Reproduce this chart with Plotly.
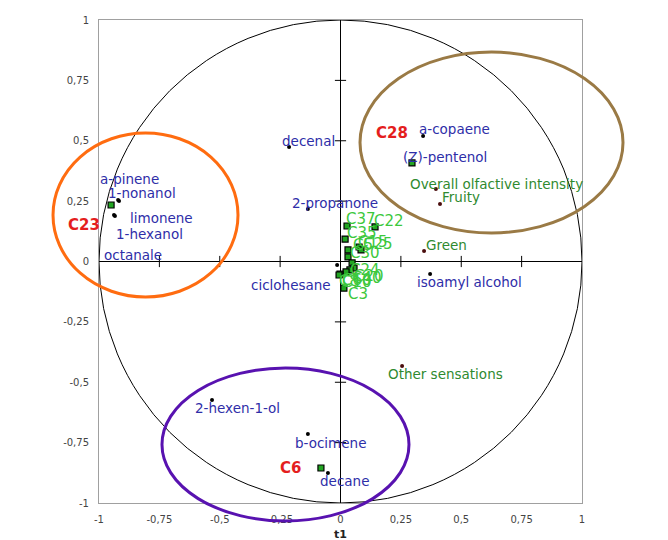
import plotly.graph_objects as go

# ---- data -------------------------------------------------------------
# Volatile compounds (correlations with t1 / t2)
compound_names = ["decenal", "2-propanone", "a-copaene", "(Z)-pentenol", "isoamyl alcohol",
                  "2-hexen-1-ol", "b-ocimene", "decane", "ciclohesane",
                  "a-pinene", "1-nonanol", "limonene", "1-hexanol", "octanale"]
compound_t1 = [-0.213, -0.135, 0.342, 0.296, 0.371,
               -0.532, -0.135, -0.052, -0.014,
               -0.921, -0.917, -0.934, -0.938, -0.946]
compound_t2 = [0.474, 0.217, 0.520, 0.408, -0.052,
               -0.573, -0.714, -0.876, -0.014,
               0.255, 0.251, 0.188, 0.193, 0.230]

# Sensory descriptors
sensory_names = ["Overall olfactive intensity", "Fruity", "Green", "Other sensations"]
sensory_t1 = [0.395, 0.412, 0.346, 0.255]
sensory_t2 = [0.300, 0.238, 0.043, -0.433]

# Samples
sample_names = ["C37", "C22", "C35", "C15", "C25", "C5", "C30", "C24",
                "C20", "C40", "C60", "C10", "C8", "C3"]
sample_t1 = [0.027, 0.143, 0.019, 0.077, 0.085, 0.031, 0.031, 0.048,
             0.056, 0.039, 0.023, -0.002, -0.006, 0.014]
sample_t2 = [0.147, 0.143, 0.093, 0.060, 0.048, 0.048, 0.019, -0.006,
             -0.027, -0.035, -0.043, -0.052, -0.056, -0.110]

# Highlighted samples
key_names = ["C23", "C28", "C6"]
key_t1 = [-0.950, 0.296, -0.081]
key_t2 = [0.234, 0.408, -0.855]

tick_vals = [-1, -0.75, -0.5, -0.25, 0, 0.25, 0.5, 0.75, 1]
tick_text = ["-1", "-0,75", "-0,5", "-0,25", "0", "0,25", "0,5", "0,75", "1"]

# ---- label placement (pixel shifts) ----------------------------------
compound_label = {
    "decenal": (-9, 6), "2-propanone": (-18, 6), "a-copaene": (-6, 7),
    "(Z)-pentenol": (-11, 6), "isoamyl alcohol": (-15, -8),
    "2-hexen-1-ol": (-19, -8), "b-ocimene": (-15, -9), "decane": (-10, -8),
    "ciclohesane": (-88, -20), "a-pinene": (-20, 21), "1-nonanol": (-13, 8),
    "limonene": (13, -2), "1-hexanol": (0, -19), "octanale": (-10, -49),
}
sensory_label = {
    "Overall olfactive intensity": (-28, 5), "Fruity": (0, 7),
    "Green": (0, 6), "Other sensations": (-16, -8),
}
sample_label = {
    "C37": (-3, 7), "C22": (-3, 6), "C35": (0, 6), "C15": (-3, 5),
    "C25": (0, 6), "C5": (3, 5), "C30": (0, 4), "C24": (-4, -7),
    "C20": (-2, -8), "C40": (0, -8), "C60": (-6, -8), "C10": (0, -8),
    "C8": (-2, -6), "C3": (2, -6),
}
key_label = {"C23": (-9, -20), "C28": (-2, 30), "C6": (-18, 0)}

FONT = "DejaVu Sans"
BLUE = "#2e2ea8"
DKGREEN = "#2f8a2f"
LTGREEN = "#3cc83c"
RED = "#e41e1e"

fig = go.Figure()

# tick marks crossing the zero axes
inner = [t for t in tick_vals if t not in (-1, 0, 1)]
fig.add_trace(go.Scatter(x=inner, y=[0] * len(inner), mode="markers",
                         marker=dict(symbol="line-ns-open", size=8, color="black",
                                     line=dict(color="black", width=1)),
                         hoverinfo="skip", showlegend=False))
fig.add_trace(go.Scatter(x=[0] * len(inner), y=inner, mode="markers",
                         marker=dict(symbol="line-ew-open", size=8, color="black",
                                     line=dict(color="black", width=1)),
                         hoverinfo="skip", showlegend=False))

# points
fig.add_trace(go.Scatter(x=compound_t1, y=compound_t2, mode="markers",
                         marker=dict(size=4, color="black"), showlegend=False))
fig.add_trace(go.Scatter(x=sensory_t1, y=sensory_t2, mode="markers",
                         marker=dict(size=4, color="#4a0d0d"), showlegend=False))
fig.add_trace(go.Scatter(x=sample_t1 + key_t1, y=sample_t2 + key_t2, mode="markers",
                         marker=dict(symbol="square", size=6, color="#22a522",
                                     line=dict(color="black", width=1.2)),
                         showlegend=False))

annotations = []


def add_labels(names, xs, ys, shifts, color, size, bold=False, anchor="left"):
    for n, x, y in zip(names, xs, ys):
        dx, dy = shifts[n]
        annotations.append(dict(
            x=x, y=y, xref="x", yref="y", text=f"<b>{n}</b>" if bold else n,
            showarrow=False, xanchor=anchor, yanchor="middle",
            xshift=dx, yshift=dy,
            font=dict(family=FONT, size=size, color=color)))


add_labels(compound_names, compound_t1, compound_t2, compound_label, BLUE, 13.5)
add_labels(sensory_names, sensory_t1, sensory_t2, sensory_label, DKGREEN, 13.5)
add_labels(sample_names, sample_t1, sample_t2, sample_label, LTGREEN, 15)
add_labels(key_names, key_t1, key_t2, key_label, RED, 15, bold=True, anchor="right")

annotations.append(dict(x=0.5, y=-0.066, xref="paper", yref="paper", text="<b>t1</b>",
                        showarrow=False, xanchor="center", yanchor="middle",
                        font=dict(family=FONT, size=11, color="#222")))

shapes = [
    # unit circle
    dict(type="circle", xref="x", yref="y", x0=-1, y0=-1, x1=1, y1=1,
         line=dict(color="black", width=1), layer="below"),
    # group outlines
    dict(type="circle", xref="paper", yref="paper", x0=-0.0952, x1=0.2878,
         y0=0.4265, y1=0.766, line=dict(color="#ff6c10", width=3)),
    dict(type="circle", xref="paper", yref="paper", x0=0.5404, x1=1.0849,
         y0=0.559, y1=0.9337, line=dict(color="#9a7a45", width=3)),
    dict(type="circle", xref="paper", yref="paper", x0=0.1304, x1=0.6418,
         y0=-0.0373, y1=0.2795, line=dict(color="#5812b0", width=3)),
]

axis_common = dict(range=[-1, 1], tickvals=tick_vals, ticktext=tick_text,
                   showgrid=False, zeroline=True, zerolinecolor="black",
                   zerolinewidth=1, showline=True, linecolor="#a0a0a0",
                   linewidth=1, mirror=True, ticks="outside", ticklen=7,
                   tickcolor="rgba(0,0,0,0)",
                   tickfont=dict(family=FONT, size=10, color="#444"))

fig.update_layout(
    width=668, height=540,
    margin=dict(l=99, r=86, t=20, b=37, autoexpand=False),
    paper_bgcolor="white", plot_bgcolor="white",
    xaxis=dict(**axis_common),
    yaxis=dict(**axis_common),
    shapes=shapes, annotations=annotations, showlegend=False,
)

fig.write_html("out.html")
